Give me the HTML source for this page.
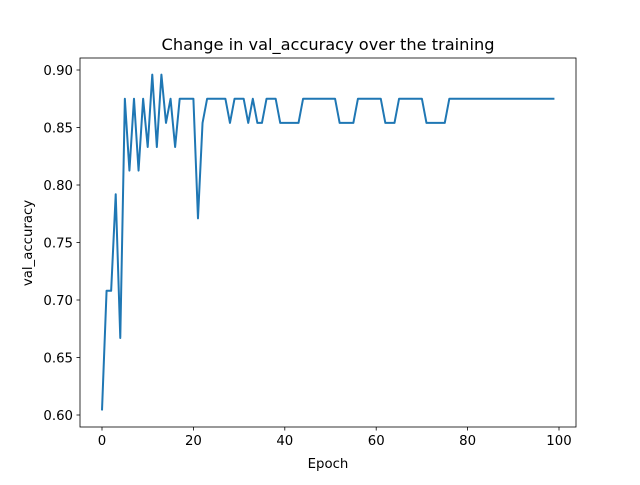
<!DOCTYPE html>
<html><head><meta charset="utf-8"><style>
body{margin:0;background:#fff;}
svg text{font-family:"DejaVu Sans","Liberation Sans",sans-serif;fill:#000;}
</style></head><body>
<svg id="chart" width="640" height="480" xmlns="http://www.w3.org/2000/svg">
<rect width="640" height="480" fill="#fff"/>
<text x="328" y="50" text-anchor="middle" font-size="16.2">Change in val_accuracy over the training</text>
<g id="axes"></g>
<text x="328" y="468" text-anchor="middle" font-size="13.3">Epoch</text>
<text transform="translate(32,243) rotate(-90)" text-anchor="middle" font-size="13.3">val_accuracy</text>
</svg>
<script>
const xTicks=[0,20,40,60,80,100];
const yTicks=[0.60,0.65,0.70,0.75,0.80,0.85,0.90];
const yTickLabels=["0.60","0.65","0.70","0.75","0.80","0.85","0.90"];
const earlyVals=[0.604,0.708,0.708,0.792,0.667,0.875,0.8125,0.875,0.8125,0.875,0.833,0.896,0.833,0.896,0.854,0.875,0.833,0.875,0.875,0.875,0.875,0.771,0.854];
const lateVals=[0.875,0.875,0.875,0.875,0.875,0.854,0.875,0.875,0.875,0.854,0.875,0.854,0.854,0.875,0.875,0.875,
0.854,0.854,0.854,0.854,0.854,0.875,0.875,0.875,0.875,0.875,0.875,0.875,0.875,0.854,0.854,0.854,0.854,
0.875,0.875,0.875,0.875,0.875,0.875,0.854,0.854,0.854,0.875,0.875,0.875,0.875,0.875,0.875,
0.854,0.854,0.854,0.854,0.854,0.875,0.875,0.875,0.875,0.875,0.875,0.875,0.875,0.875,0.875,0.875,0.875,
0.875,0.875,0.875,0.875,0.875,0.875,0.875,0.875,0.875,0.875,0.875,0.875];
const values=earlyVals.concat(lateVals);
const X=v=>102+v*4.57;
const Y=v=>415-(v-0.60)*1150;
const NS="http://www.w3.org/2000/svg";
const g=document.getElementById('axes');
function mk(t,a){const e=document.createElementNS(NS,t);for(const k in a)e.setAttribute(k,a[k]);g.appendChild(e);return e;}
xTicks.forEach(t=>{
 const l=mk('line',{x1:X(t),x2:X(t),y1:427,y2:430.5,stroke:'#000','stroke-width':0.8});
 
 
 const tx=mk('text',{x:X(t),y:445,'text-anchor':'middle','font-size':13.3});tx.textContent=t;
 
 
});
yTicks.forEach((t,i)=>{
 const l=mk('line',{x1:76.5,x2:80,y1:Y(t),y2:Y(t),stroke:'#000','stroke-width':0.8});
 
 
 const tx=mk('text',{x:73,y:Y(t)+5,'text-anchor':'end','font-size':13.3});tx.textContent=yTickLabels[i];
 
 
});
const pts=values.map((v,i)=>X(i).toFixed(2)+','+Y(v).toFixed(2)).join(' ');
const pl=mk('polyline',{points:pts,fill:'none',stroke:'#1f77b4','stroke-width':2,'stroke-linejoin':'round'});


const fr=mk('rect',{x:80,y:58,width:496,height:369,fill:'none',stroke:'#000','stroke-width':0.8});


</script>
</body></html>
